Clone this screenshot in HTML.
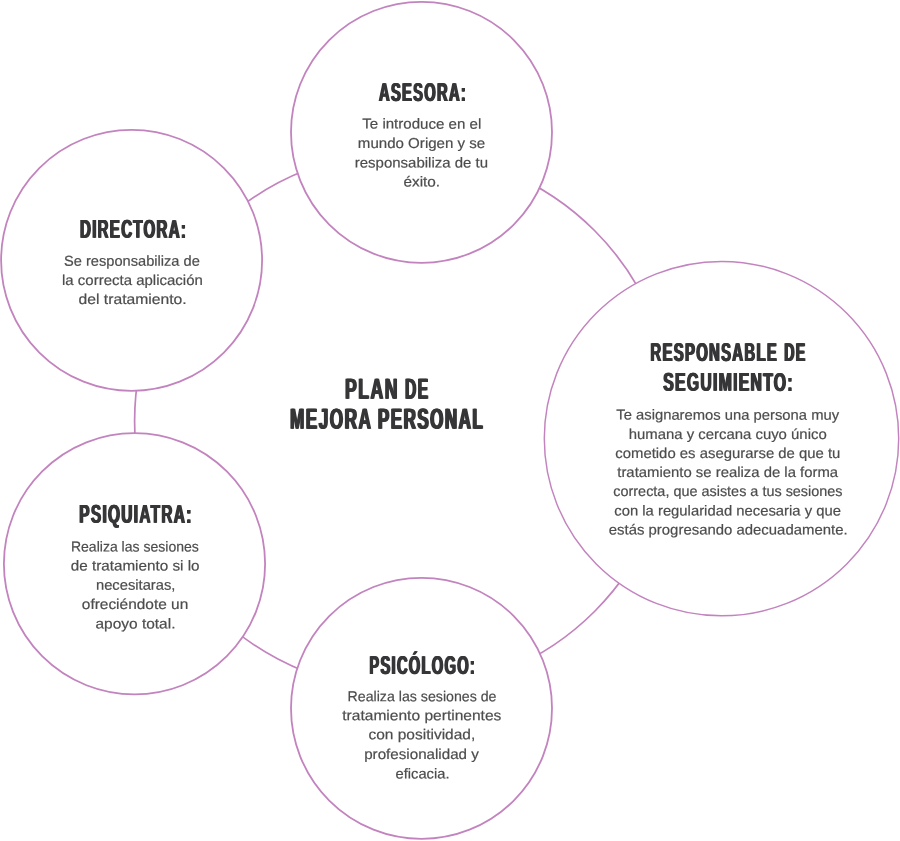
<!DOCTYPE html>
<html lang="es">
<head>
<meta charset="utf-8">
<title>Plan de mejora personal</title>
<style>
html,body{margin:0;padding:0;background:#fff;}
body{width:900px;height:841px;overflow:hidden;position:relative;}
#stage{position:absolute;left:0;top:0;width:900px;height:841px;will-change:transform;}
#stage svg{position:absolute;left:0;top:0;display:block;}
.ring{fill:#fff;stroke:#c283be;}
.link{fill:none;stroke:#c283be;}
h1,h2{margin:0;padding:0;font-size:0;line-height:0;position:absolute;left:0;top:0;width:0;height:0;}
.h,.t,.b{display:block;position:absolute;left:0;top:0;margin:0;white-space:pre;line-height:1;transform-origin:0 0;font-family:"Liberation Sans",sans-serif;}
.h{font-size:25.7px;font-weight:700;color:#363638;}
.t{font-size:29.0px;font-weight:700;color:#363638;}
.b{font-size:14.4px;font-weight:400;color:#4d4d4d;-webkit-text-stroke:0.2px #4d4d4d;}
</style>
</head>
<body>
<div id="stage">
<svg width="900" height="841" viewBox="0 0 900 841">
<circle class="link" cx="404.0" cy="421.0" r="269.4" stroke-width="1.7"/>
<circle class="ring" cx="421.5" cy="132.3" r="130.5" stroke-width="1.8"/>
<circle class="ring" cx="131.6" cy="260.3" r="130.5" stroke-width="1.8"/>
<circle class="ring" cx="134.5" cy="563.8" r="130.6" stroke-width="1.8"/>
<circle class="ring" cx="421.5" cy="708.3" r="130.5" stroke-width="1.8"/>
<circle class="ring" cx="721.5" cy="438.6" r="177.2" stroke-width="1.45"/>
</svg>
<h1><span class="t" style="transform:matrix(0.6071,0.0005,0,1,345.00,374.70);letter-spacing:2.47px;text-shadow:1.35px 0 0 #363638,-1.35px 0 0 #363638;">PLAN</span> <span class="t" style="transform:matrix(0.5383,0.0005,0,1,404.95,374.70);letter-spacing:2.79px;text-shadow:1.52px 0 0 #363638,-1.52px 0 0 #363638;">DE</span> <span class="t" style="transform:matrix(0.5924,0.0005,0,1,289.95,404.70);letter-spacing:2.53px;text-shadow:1.38px 0 0 #363638,-1.38px 0 0 #363638;">MEJORA</span> <span class="t" style="transform:matrix(0.5858,0.0005,0,1,377.90,404.70);letter-spacing:2.56px;text-shadow:1.40px 0 0 #363638,-1.40px 0 0 #363638;">PERSONAL</span></h1>
<h2><span class="h" style="transform:matrix(0.5727,0.0005,0,1,379.00,79.90);letter-spacing:2.27px;text-shadow:1.26px 0 0 #363638,-1.26px 0 0 #363638;">ASESORA:</span></h2>
<p class="b" style="transform:matrix(1.0476,0.0005,0,1,362.27,116.60);">Te introduce en el</p>
<p class="b" style="transform:matrix(1.0480,0.0005,0,1,357.82,135.90);">mundo Origen y se</p>
<p class="b" style="transform:matrix(1.0410,0.0005,0,1,354.80,155.50);">responsabiliza de tu</p>
<p class="b" style="transform:matrix(1.0653,0.0005,0,1,403.49,174.50);">éxito.</p>
<h2><span class="h" style="transform:matrix(0.5859,0.0005,0,1,80.00,216.80);letter-spacing:2.22px;text-shadow:1.23px 0 0 #363638,-1.23px 0 0 #363638;">DIRECTORA:</span></h2>
<p class="b" style="transform:matrix(1.0162,0.0005,0,1,64.04,253.70);">Se responsabiliza de</p>
<p class="b" style="transform:matrix(1.0414,0.0005,0,1,62.04,272.90);">la correcta aplicación</p>
<p class="b" style="transform:matrix(1.0910,0.0005,0,1,78.50,291.90);">del tratamiento.</p>
<h2><span class="h" style="transform:matrix(0.5799,0.0005,0,1,650.40,339.90);letter-spacing:2.24px;text-shadow:1.24px 0 0 #363638,-1.24px 0 0 #363638;">RESPONSABLE</span> <span class="h" style="transform:matrix(0.5520,0.0005,0,1,784.27,339.90);letter-spacing:2.36px;text-shadow:1.30px 0 0 #363638,-1.30px 0 0 #363638;">DE</span> <span class="h" style="transform:matrix(0.6121,0.0005,0,1,663.30,369.80);letter-spacing:2.12px;text-shadow:1.18px 0 0 #363638,-1.18px 0 0 #363638;">SEGUIMIENTO:</span></h2>
<p class="b" style="transform:matrix(1.0277,0.0005,0,1,616.30,407.60);">Te asignaremos una persona muy</p>
<p class="b" style="transform:matrix(1.0357,0.0005,0,1,628.67,426.90);">humana y cercana cuyo único</p>
<p class="b" style="transform:matrix(1.0346,0.0005,0,1,615.27,445.90);">cometido es asegurarse de que tu</p>
<p class="b" style="transform:matrix(1.0339,0.0005,0,1,617.28,464.90);">tratamiento se realiza de la forma</p>
<p class="b" style="transform:matrix(1.0022,0.0005,0,1,613.28,484.00);">correcta, que asistes a tus sesiones</p>
<p class="b" style="transform:matrix(1.0306,0.0005,0,1,614.24,503.40);">con la regularidad necesaria y que</p>
<p class="b" style="transform:matrix(1.0364,0.0005,0,1,608.77,522.50);">estás progresando adecuadamente.</p>
<h2><span class="h" style="transform:matrix(0.5709,0.0005,0,1,369.37,652.90);letter-spacing:2.28px;text-shadow:1.26px 0 0 #363638,-1.26px 0 0 #363638;">PSICÓLOGO:</span></h2>
<p class="b" style="transform:matrix(0.9854,0.0005,0,1,347.52,689.30);">Realiza las sesiones de</p>
<p class="b" style="transform:matrix(1.0811,0.0005,0,1,342.25,708.30);">tratamiento pertinentes</p>
<p class="b" style="transform:matrix(1.0761,0.0005,0,1,368.48,727.30);">con positividad,</p>
<p class="b" style="transform:matrix(1.0539,0.0005,0,1,364.17,746.90);">profesionalidad y</p>
<p class="b" style="transform:matrix(1.0237,0.0005,0,1,395.49,766.50);">eficacia.</p>
<h2><span class="h" style="transform:matrix(0.6000,0.0005,0,1,79.30,501.80);letter-spacing:2.17px;text-shadow:1.20px 0 0 #363638,-1.20px 0 0 #363638;">PSIQUIATRA:</span></h2>
<p class="b" style="transform:matrix(0.9754,0.0005,0,1,70.90,539.40);">Realiza las sesiones</p>
<p class="b" style="transform:matrix(1.0597,0.0005,0,1,70.70,558.50);">de tratamiento si lo</p>
<p class="b" style="transform:matrix(1.0245,0.0005,0,1,95.96,577.80);">necesitaras,</p>
<p class="b" style="transform:matrix(1.0730,0.0005,0,1,81.79,596.90);">ofreciéndote un</p>
<p class="b" style="transform:matrix(1.0746,0.0005,0,1,95.49,616.50);">apoyo total.</p>
</div>
</body>
</html>
